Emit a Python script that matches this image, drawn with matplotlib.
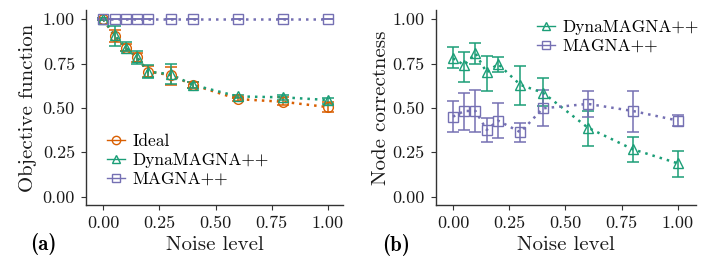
import matplotlib
matplotlib.use('Agg')
import matplotlib.pyplot as plt
from matplotlib.lines import Line2D

plt.rcParams['font.family'] = ['cmr10', 'DejaVu Serif']
plt.rcParams['mathtext.fontset'] = 'cm'
plt.rcParams['axes.unicode_minus'] = False

# colours (Dark2)
c_ideal = '#D95F02'
c_dyna = '#1B9E77'
c_magna = '#7570B3'

noise = [0.0, 0.05, 0.1, 0.15, 0.2, 0.3, 0.4, 0.6, 0.8, 1.0]

# panel (a): objective function
ideal_obj = [1.00, 0.905, 0.84, 0.785, 0.705, 0.685, 0.63, 0.55, 0.535, 0.505]
ideal_lo = [0.995, 0.87, 0.82, 0.76, 0.675, 0.63, 0.615, 0.54, 0.515, 0.475]
ideal_hi = [1.005, 0.94, 0.86, 0.81, 0.735, 0.73, 0.645, 0.56, 0.56, 0.535]
dyna_obj = [1.00, 0.91, 0.84, 0.785, 0.705, 0.69, 0.63, 0.565, 0.56, 0.545]
dyna_lo = [0.995, 0.85, 0.82, 0.75, 0.67, 0.635, 0.615, 0.555, 0.545, 0.525]
dyna_hi = [1.005, 0.96, 0.87, 0.82, 0.74, 0.746, 0.645, 0.575, 0.575, 0.555]
magna_obj = [1.0, 1.0, 1.0, 1.0, 1.0, 1.0, 1.0, 1.0, 1.0, 1.0]

# panel (b): node correctness
dyna_nc = [0.78, 0.742, 0.808, 0.70, 0.748, 0.63, 0.586, 0.389, 0.267, 0.188]
dyna_nc_lo = [0.724, 0.648, 0.748, 0.598, 0.705, 0.517, 0.511, 0.286, 0.194, 0.113]
dyna_nc_hi = [0.846, 0.818, 0.868, 0.793, 0.786, 0.739, 0.667, 0.483, 0.338, 0.258]
magna_nc = [0.451, 0.483, 0.483, 0.376, 0.429, 0.363, 0.498, 0.523, 0.483, 0.429]
magna_nc_lo = [0.363, 0.376, 0.363, 0.31, 0.333, 0.306, 0.398, 0.45, 0.363, 0.40]
magna_nc_hi = [0.541, 0.583, 0.60, 0.442, 0.526, 0.417, 0.60, 0.598, 0.598, 0.46]

ticks = [0, 0.25, 0.5, 0.75, 1.0]
tick_labels = ['0.00', '0.25', '0.50', '0.75', '1.00']

W, H = 706, 272
fig = plt.figure(figsize=(W / 100, H / 100), dpi=100)


def px_axes(left, right, bottom, top):
    return fig.add_axes([left / W, 1 - bottom / H, (right - left) / W, (bottom - top) / H])


def series(ax, y, lo, hi, color, marker):
    yerr = [[v - l for v, l in zip(y, lo)], [h - v for v, h in zip(y, hi)]]
    ax.errorbar(noise, y, yerr=yerr, fmt='none', ecolor=color, elinewidth=1.1,
                capsize=4, capthick=1.1, zorder=2)
    ax.plot(noise, y, linestyle=(0, (1, 2)), color=color, lw=1.8, zorder=3)
    ax.plot(noise, y, linestyle='none', marker=marker, ms=7, mfc='none',
            mec=color, mew=1, zorder=4)


def style(ax, ylabel, xlim, ylab_x):
    ax.set_xlim(*xlim)
    ax.set_ylim(-0.047, 1.05)
    ax.set_xticks(ticks)
    ax.set_xticklabels(tick_labels)
    ax.set_yticks(ticks)
    ax.set_yticklabels(tick_labels)
    for s in ['top', 'right']:
        ax.spines[s].set_visible(False)
    for s in ['left', 'bottom']:
        ax.spines[s].set_color('#333333')
        ax.spines[s].set_linewidth(1)
    ax.tick_params(length=3.5, width=0.8, color='#333333', labelsize=13,
                   labelcolor='#1a1a1a', pad=4.5)
    ax.set_xlabel('Noise level', fontsize=15, color='#1a1a1a', va='center')
    ax.set_ylabel(ylabel, fontsize=15, color='#1a1a1a', va='center')
    # label positions in pixels relative to the axes box
    w, h = ax.get_position().width * W, ax.get_position().height * H
    ax.xaxis.set_label_coords(0.5, -40 / h)
    ax.yaxis.set_label_coords(ylab_x / w, 0.5)


def key(color, marker):
    return Line2D([], [], color=color, lw=1, marker=marker, ms=6, mfc='none', mec=color, mew=1)


leg_kw = dict(frameon=False, fontsize=12.5, handlelength=1.05, handletextpad=0.4,
              labelspacing=0.2, borderpad=0, borderaxespad=0)

ax1 = px_axes(86, 343, 205, 10.4)
series(ax1, ideal_obj, ideal_lo, ideal_hi, c_ideal, 'o')
series(ax1, dyna_obj, dyna_lo, dyna_hi, c_dyna, '^')
series(ax1, magna_obj, magna_obj, magna_obj, c_magna, 's')
style(ax1, 'Objective function', (-0.077, 1.068), -58)
ax1.legend([key(c_ideal, 'o'), key(c_dyna, '^'), key(c_magna, 's')],
           ['Ideal', 'DynaMAGNA++', 'MAGNA++'], loc='upper left',
           bbox_to_anchor=(107 / W, 1 - 134 / H), bbox_transform=fig.transFigure, **leg_kw)

ax2 = px_axes(435.7, 696, 205, 10.4)
series(ax2, dyna_nc, dyna_nc_lo, dyna_nc_hi, c_dyna, '^')
series(ax2, magna_nc, magna_nc_lo, magna_nc_hi, c_magna, 's')
style(ax2, 'Node correctness', (-0.077, 1.081), -55)
ax2.legend([key(c_dyna, '^'), key(c_magna, 's')], ['DynaMAGNA++', 'MAGNA++'],
           loc='upper left', bbox_to_anchor=(537 / W, 1 - 20 / H),
           bbox_transform=fig.transFigure, **leg_kw)

fig.text(30 / W, 1 - 244 / H, '(a)', family='cmb10', fontsize=15, va='center', ha='left')
fig.text(382 / W, 1 - 245 / H, '(b)', family='cmb10', fontsize=15, va='center', ha='left')

fig.savefig('out.png', dpi=100)
